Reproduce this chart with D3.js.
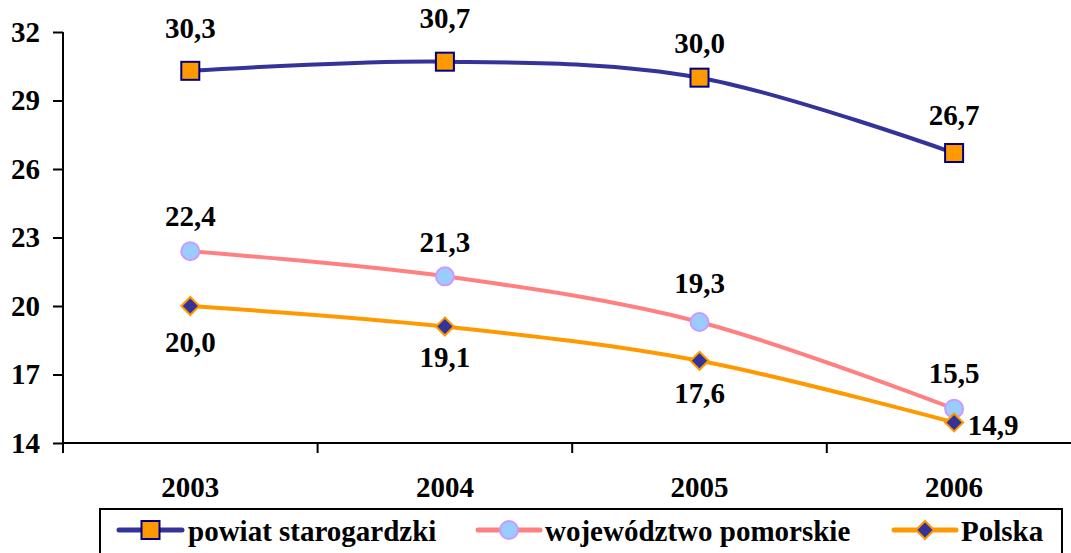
<!DOCTYPE html>
<html><head><meta charset="utf-8">
<script src="https://cdn.jsdelivr.net/npm/d3@7"></script>
</head>
<body style="margin:0;padding:0;background:#fff"><svg id="c" width="1071" height="553" style="display:block;font-family:'Liberation Serif';font-weight:bold"></svg>
<script>
const years = ["2003","2004","2005","2006"];
const powiat = [30.3, 30.7, 30.0, 26.7];
const wojewodztwo = [22.4, 21.3, 19.3, 15.5];
const polska = [20.0, 19.1, 17.6, 14.9];
const yTicks = [14, 17, 20, 23, 26, 29, 32];
const seriesNames = ["powiat starogardzki", "województwo pomorskie", "Polska"];
const labelFmt = v => v.toFixed(1).replace(".", ",");

// label offsets (layout, not data)
const offPowiat = [[0,-43],[0,-44],[0,-35],[0,-38]];
const offWoj = [[0,-35],[0,-34],[0,-39],[0,-36]];
const offPol = [[0,36],[0,30],[0,32],[39,2]];

const FONT = "'Liberation Serif', 'Times New Roman', serif";
const FS = 29;
const svg = d3.select("#c");
function styleText(sel) {
  return sel.style("font-family", FONT).style("font-size", FS + "px").style("font-weight", "bold").attr("fill", "#000");
}
const x = d3.scaleBand().domain(years).range([63, 1081.4]).padding(0);
const y = d3.scaleLinear().domain([14, 32]).range([443, 32]);
const cx = d => x(d) + x.bandwidth()/2;

// Y axis
const ya = svg.append("g").attr("transform","translate(63,0)")
  .call(d3.axisLeft(y).tickValues(yTicks).tickSize(10).tickPadding(13).tickFormat(d3.format("d")));
ya.attr("font-family", null).attr("font-size", null);
ya.select(".domain").remove();
ya.selectAll(".tick line").attr("stroke","#000").attr("stroke-width",2);
styleText(ya.selectAll(".tick text"));
svg.append("line").attr("x1",63).attr("x2",63).attr("y1",y(32)).attr("y2",453).attr("stroke","#000").attr("stroke-width",2);

// X axis
svg.append("line").attr("x1",62).attr("x2",1071).attr("y1",y(14)).attr("y2",y(14)).attr("stroke","#000").attr("stroke-width",2);
svg.selectAll(".xt").data(years).enter().append("line")
  .attr("x1",d=>x(d)).attr("x2",d=>x(d)).attr("y1",y(14)).attr("y2",453).attr("stroke","#000").attr("stroke-width",2);
styleText(svg.selectAll(".xl").data(years).enter().append("text")
  .attr("x",cx).attr("y",497).attr("text-anchor","middle").text(d=>d));

const line = d3.line().x((d,i)=>cx(years[i])).y(d=>y(d)).curve(d3.curveCardinal.tension(0));

const series = [
  {vals: powiat, color:"#333399", off: offPowiat, marker:"square"},
  {vals: wojewodztwo, color:"#FF8080", off: offWoj, marker:"circle"},
  {vals: polska, color:"#FF9900", off: offPol, marker:"diamond"}
];

function drawMarker(g, type, px, py) {
  if (type === "square") {
    g.append("rect").attr("x",px-9).attr("y",py-9).attr("width",18).attr("height",18)
      .attr("fill","#FF9900").attr("stroke","#000080").attr("stroke-width",2);
  } else if (type === "circle") {
    g.append("circle").attr("cx",px).attr("cy",py).attr("r",9)
      .attr("fill","#99CCFF").attr("stroke","#CC99FF").attr("stroke-width",2);
  } else {
    g.append("path").attr("d",`M${px},${py-9}L${px+9},${py}L${px},${py+9}L${px-9},${py}Z`)
      .attr("fill","#333399").attr("stroke","#FF9900").attr("stroke-width",2);
  }
}

series.forEach(s => {
  svg.append("path").datum(s.vals).attr("d",line).attr("fill","none")
    .attr("stroke",s.color).attr("stroke-width",4);
});
series.forEach(s => {
  const g = svg.append("g");
  s.vals.forEach((v,i) => drawMarker(g, s.marker, cx(years[i]), y(v)));
  s.vals.forEach((v,i) => {
    styleText(svg.append("text").attr("x",cx(years[i])+s.off[i][0]).attr("y",y(v)+s.off[i][1])
      .attr("dy","0.35em").attr("text-anchor","middle").text(labelFmt(v)));
  });
});

// Legend
svg.append("rect").attr("x",100).attr("y",509).attr("width",962).attr("height",60)
  .attr("fill","none").attr("stroke","#000").attr("stroke-width",2);
const legPos = [{x1:119,x2:182,tx:188},{x1:478,x2:540,tx:545},{x1:894,x2:956,tx:961}];
series.forEach((s,i) => {
  const p = legPos[i];
  const g = svg.append("g");
  g.append("line").attr("x1",p.x1).attr("x2",p.x2).attr("y1",530).attr("y2",530)
    .attr("stroke",s.color).attr("stroke-width",5).attr("stroke-linecap","round");
  drawMarker(g, s.marker, (p.x1+p.x2)/2, 530);
  styleText(g.append("text").attr("x",p.tx).attr("y",541).text(seriesNames[i]));
});
</script></body></html>
